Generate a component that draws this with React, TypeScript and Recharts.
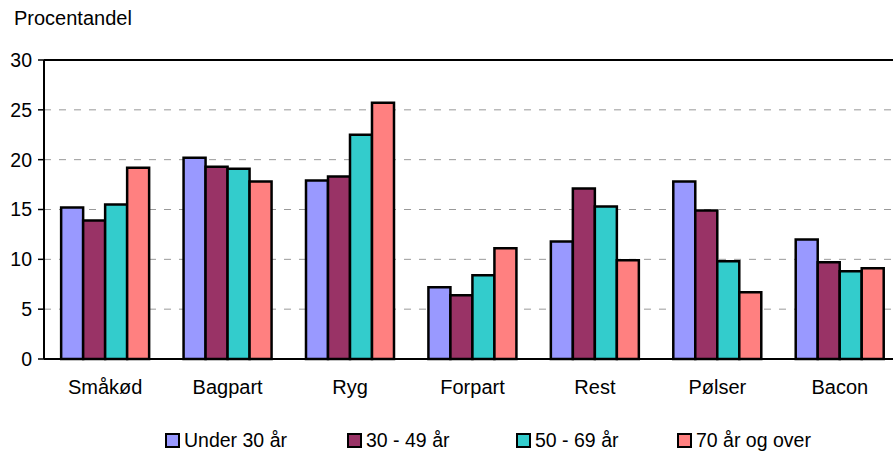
import React from "react";
import {
  BarChart,
  Bar,
  XAxis,
  YAxis,
  CartesianGrid,
  ReferenceLine,
} from "recharts";

const categories = ["Småkød", "Bagpart", "Ryg", "Forpart", "Rest", "Pølser", "Bacon"];
const under30 = [15.2, 20.2, 17.9, 7.2, 11.8, 17.8, 12.0];
const age30to49 = [13.9, 19.3, 18.3, 6.4, 17.1, 14.9, 9.7];
const age50to69 = [15.5, 19.1, 22.5, 8.4, 15.3, 9.8, 8.8];
const over70 = [19.2, 17.8, 25.7, 11.1, 9.9, 6.7, 9.1];
const yTicks = [0, 5, 10, 15, 20, 25, 30];
const edgeTicks = [0, 1, 2, 3, 4, 5, 6, 7];

const series = [
  { key: "u30", name: "Under 30 år", color: "#9999FF" },
  { key: "a3049", name: "30 - 49 år", color: "#993366" },
  { key: "a5069", name: "50 - 69 år", color: "#33CCCC" },
  { key: "o70", name: "70 år og over", color: "#FF8080" },
];

const data = categories.map((name, i) => ({
  name,
  u30: under30[i],
  a3049: age30to49[i],
  a5069: age50to69[i],
  o70: over70[i],
}));

const font = "'Liberation Sans', Arial, sans-serif";
const legendLeft = [165, 347, 516, 677];

export default function App() {
  return (
    <div
      style={{
        position: "absolute",
        left: 0,
        top: 0,
        width: 893,
        height: 452,
        overflow: "hidden",
        background: "#fff",
        fontFamily: font,
      }}
    >
      <div style={{ position: "absolute", left: 14, top: 7, fontSize: 20, color: "#000" }}>
        Procentandel
      </div>
      <BarChart
        width={920}
        height={452}
        data={data}
        margin={{ top: 60, right: 19, left: 0, bottom: 53 }}
        barCategoryGap="14%"
        barGap={0}
      >
        <CartesianGrid vertical={false} stroke="#999" strokeDasharray="7 8" />
        <XAxis
          xAxisId="edge"
          type="number"
          domain={[0, 7]}
          ticks={edgeTicks}
          allowDataOverflow
          height={0}
          tick={false}
          axisLine={false}
          tickLine={{ stroke: "#000", strokeWidth: 1.5 }}
          tickSize={6}
        />
        <XAxis
          dataKey="name"
          height={40}
          tickLine={false}
          tickSize={6}
          tickMargin={15}
          axisLine={{ stroke: "#000", strokeWidth: 2 }}
          tick={{ fontSize: 20, fill: "#000", fontFamily: font }}
        />
        <YAxis
          width={44}
          domain={[0, 30]}
          ticks={yTicks}
          tickSize={6}
          tickMargin={6}
          axisLine={{ stroke: "#000", strokeWidth: 2 }}
          tickLine={{ stroke: "#000", strokeWidth: 1.5 }}
          tick={{ fontSize: 19.5, fill: "#000", fontFamily: font }}
        />
        <ReferenceLine y={30} stroke="#000" strokeWidth={2} />
        {series.map((s) => (
          <Bar
            key={s.key}
            dataKey={s.key}
            name={s.name}
            fill={s.color}
            stroke="#000"
            strokeWidth={2.5}
            isAnimationActive={false}
          />
        ))}
      </BarChart>
      {series.map((s, i) => (
        <div
          key={s.key}
          style={{
            position: "absolute",
            left: legendLeft[i],
            top: 429,
            display: "flex",
            alignItems: "center",
            fontSize: 19.5,
            lineHeight: "22px",
            color: "#000",
            whiteSpace: "nowrap",
          }}
        >
          <span
            style={{
              display: "inline-block",
              width: 11,
              height: 11,
              background: s.color,
              border: "2px solid #000",
              marginRight: 4,
            }}
          />
          {s.name}
        </div>
      ))}
    </div>
  );
}
